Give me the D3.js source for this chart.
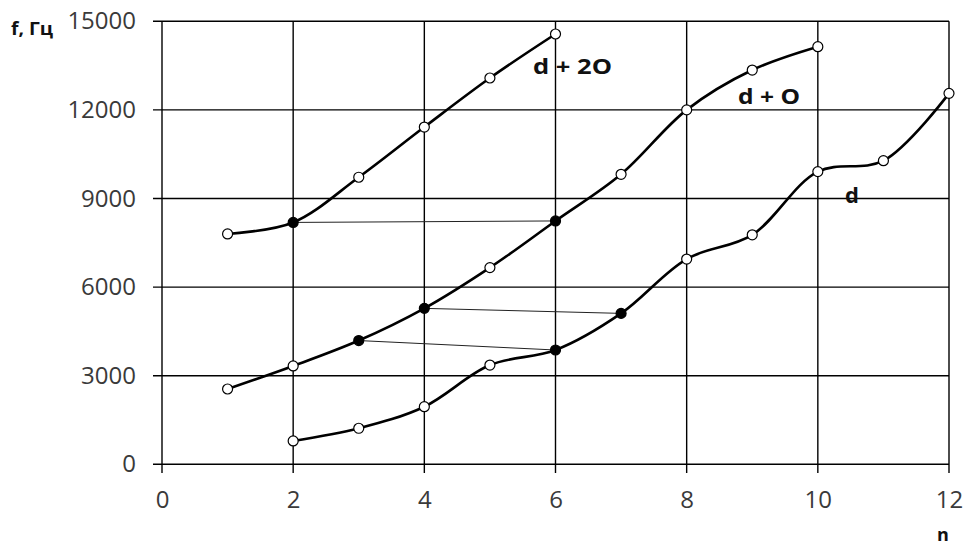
<!DOCTYPE html>
<meta charset="utf-8">
<script src="https://cdn.jsdelivr.net/npm/d3@7"></script>
<style>
	body{margin:0;background:#fff;font-family:"Open Sans",sans-serif;}
	.lbl{font-weight:bold;fill:#111;}
</style>
<div id="chart"></div>
<script>
// n values for each curve
var nD2O = [1,2,3,4,5,6]
var fD2O = [7800,8190,9720,11420,13080,14570]
var filledD2O = [2]

var nDO = [1,2,3,4,5,6,7,8,9,10]
var fDO = [2550,3330,4190,5280,6660,8240,9820,12000,13350,14140]
var filledDO = [3,4,6]

var nD = [2,3,4,5,6,7,8,9,10,11,12]
var fD = [790,1220,1950,3360,3870,5110,6950,7770,9910,10280,12560]
var filledD = [6,7]

// thin connectors: [n1,f1,n2,f2]
var links = [[2,8190,6,8240],[4,5280,7,5110],[3,4190,6,3870]]

var xTicks = [0,2,4,6,8,10,12]
var yTicks = [0,3000,6000,9000,12000,15000]

var width = 963, height = 545
var svg = d3.select("#chart").append("svg").attr("width",width).attr("height",height)

var x = d3.scaleLinear().domain([0,12]).range([162,949])
var y = d3.scaleLinear().domain([0,15000]).range([464.3,21.3])

// grid
svg.append("g").selectAll("line").data(yTicks).enter().append("line")
	.attr("x1",153).attr("x2",949)
	.attr("y1",function(d){return y(d)}).attr("y2",function(d){return y(d)})
	.attr("stroke","#000").attr("stroke-width",1.4)
svg.append("g").selectAll("line").data(xTicks).enter().append("line")
	.attr("x1",function(d){return x(d)}).attr("x2",function(d){return x(d)})
	.attr("y1",y(15000)).attr("y2",473)
	.attr("stroke","#000").attr("stroke-width",1.4)

// tick labels
var yAxis = d3.axisLeft(y).tickValues(yTicks).tickSize(0).tickPadding(26).tickFormat(d3.format("d"))
svg.append("g").attr("transform","translate(162,0)").call(yAxis)
	.call(function(g){g.select(".domain").remove()})
var xAxis = d3.axisBottom(x).tickValues(xTicks).tickSize(0).tickPadding(27).tickFormat(d3.format("d"))
svg.append("g").attr("transform","translate(0,"+y(0)+")").call(xAxis)
	.call(function(g){g.select(".domain").remove()})
svg.selectAll(".tick text").attr("font-family","Open Sans, sans-serif")
	.attr("font-size",24).attr("fill","#3a3a3a")

// connectors
svg.append("g").selectAll("line").data(links).enter().append("line")
	.attr("x1",function(d){return x(d[0])}).attr("y1",function(d){return y(d[1])})
	.attr("x2",function(d){return x(d[2])}).attr("y2",function(d){return y(d[3])})
	.attr("stroke","#222").attr("stroke-width",1)

var line = d3.line().curve(d3.curveCatmullRom.alpha(0.5))
	.x(function(d){return x(d[0])}).y(function(d){return y(d[1])})

function drawSeries(ns,fs,filled){
	var pts = ns.map(function(n,i){return [n,fs[i]]})
	svg.append("path").datum(pts).attr("d",line)
		.attr("fill","none").attr("stroke","#000").attr("stroke-width",2.6)
	svg.append("g").selectAll("circle").data(pts).enter().append("circle")
		.attr("cx",function(d){return x(d[0])}).attr("cy",function(d){return y(d[1])})
		.attr("r",5)
		.attr("fill",function(d){return filled.indexOf(d[0])>-1?"#000":"#fff"})
		.attr("stroke","#000").attr("stroke-width",1.2)
}
drawSeries(nD2O,fD2O,filledD2O)
drawSeries(nDO,fDO,filledDO)
drawSeries(nD,fD,filledD)

// labels
svg.append("text").attr("class","lbl").attr("x",533).attr("y",74).attr("font-size",22)
	.attr("textLength",79).attr("lengthAdjust","spacingAndGlyphs").text("d + 2O")
svg.append("text").attr("class","lbl").attr("x",738).attr("y",104).attr("font-size",22)
	.attr("textLength",62).attr("lengthAdjust","spacingAndGlyphs").text("d + O")
svg.append("text").attr("class","lbl").attr("x",845).attr("y",203).attr("font-size",22).text("d")
svg.append("text").attr("class","lbl").attr("x",11).attr("y",35).attr("font-size",17)
	.attr("textLength",42).attr("lengthAdjust","spacingAndGlyphs").text("f, Гц")
svg.append("text").attr("class","lbl").attr("x",937).attr("y",541).attr("font-size",18).text("n")
</script>
